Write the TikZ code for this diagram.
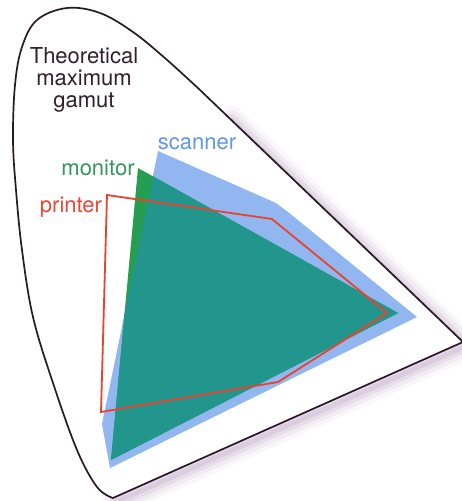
\documentclass[tikz,border=0pt]{standalone}
\usepackage{fontspec}
\setmainfont{TeX Gyre Heros}
\definecolor{scanblue}{RGB}{146,182,240}
\definecolor{montgreen}{RGB}{38,158,82}
\definecolor{overteal}{RGB}{34,150,140}
\definecolor{printred}{RGB}{234,66,44}
\definecolor{outlinecol}{RGB}{40,25,35}
\definecolor{glowcol}{RGB}{160,120,170}
\definecolor{labblue}{RGB}{95,150,232}
\definecolor{labgreen}{RGB}{52,150,92}
\definecolor{labred}{RGB}{236,72,50}
\definecolor{labdark}{RGB}{50,32,42}
\begin{document}
\begin{tikzpicture}[x=1pt,y=-1pt,
  lab/.style={font=\fontsize{22}{22}\selectfont, inner sep=0pt, anchor=base},
  glow/.style={draw=glowcol, line join=round, line cap=round}]
\useasboundingbox (0,0) rectangle (462,501);
\def\gamutpath{plot[smooth,tension=0.6] coordinates {(113,498) (97,487) (77,450) (53,383) (33,317) (22,250) (16,190) (13,140) (15,85) (22,47) (37,20) (67,8) (100,13) (133,32) (166,59) (200,90)} -- (463,342) -- cycle}
% soft shadow
\def\glowpath{(228,116) -- (463,342) -- (113,498)}
\begin{scope}[shift={(3,4)}]
\draw[glow, line width=28pt, opacity=.06] \glowpath;
\draw[glow, line width=20pt, opacity=.09] \glowpath;
\draw[glow, line width=12pt, opacity=.13] \glowpath;
\draw[glow, line width=5pt, opacity=.17] \glowpath;
\end{scope}
\fill[white] \gamutpath;
% scanner and monitor
\def\scanpath{(158,151) -- (276,203) -- (288,212) -- (417,317) -- (110,468) -- (102,424) -- cycle}
\def\monpath{(138,168) -- (398,313) -- (111,460) -- cycle}
\fill[scanblue] \scanpath;
\fill[montgreen] \monpath;
\begin{scope}
\clip \scanpath;
\fill[overteal] \monpath;
\end{scope}
% printer
\draw[printred, line width=1.8pt, line join=miter]
  (107,195) -- (272,219) -- (387,313) -- (278,382) -- (101,412) -- cycle;
% outline
\draw[outlinecol, line width=1.7pt, line join=round] \gamutpath;
% labels
\node[lab, text=labdark] (th1) at (84,63) {Theoretical};
\node[lab, text=labdark] (th2) at (84,85) {maximum};
\node[lab, text=labdark] (th3) at (84,107) {gamut};
\node[lab, text=labblue] (scan) at (197,149) {scanner};
\node[lab, text=labgreen] (mon) at (98,175) {monitor};
\node[lab, text=labred] (prn) at (71,212) {printer};
\end{tikzpicture}
\end{document}
